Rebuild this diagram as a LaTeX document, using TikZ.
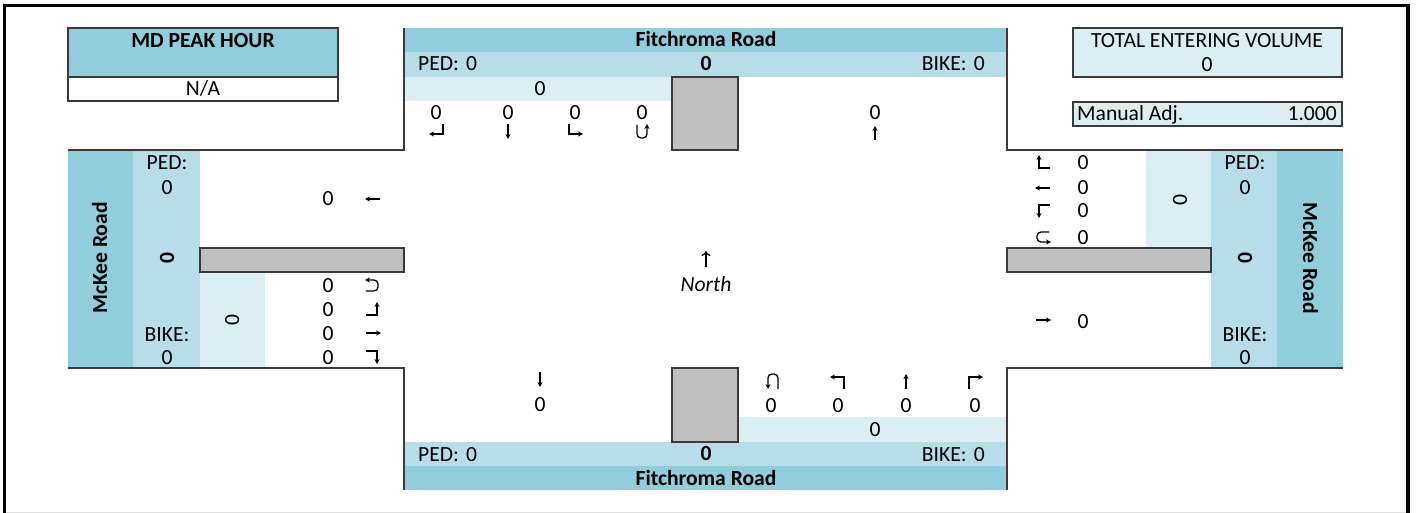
\documentclass[tikz,border=0pt]{standalone}
\usepackage{fontspec}
\setmainfont{Carlito}
\usetikzlibrary{arrows.meta}
\definecolor{bandD}{HTML}{92CDDC}
\definecolor{bandM}{HTML}{B7DEE8}
\definecolor{bandL}{HTML}{DAEEF3}
\definecolor{island}{HTML}{BFBFBF}
\definecolor{edge}{HTML}{3A3A3A}
\begin{document}
\begin{tikzpicture}[x=1pt,y=-1pt,
  t/.style={inner sep=0pt,text height=14pt,text depth=0pt,font=\fontsize{21.6}{25}\selectfont},
  tb/.style={t,font=\fontsize{21.6}{25}\selectfont\bfseries},
  ar/.style={line width=1.3pt,-{Stealth[length=5pt,width=5pt]}},
  road/.style={draw=edge,line width=1.5pt},
  box/.style={draw=edge,line width=1.3pt},
  isl/.style={draw=edge,fill=island,line width=1.3pt}]
\useasboundingbox (0,0) rectangle (1418,513);
% ---- bands ----
\fill[bandD] (404,28) rectangle (1007,52);
\fill[bandM] (404,52) rectangle (1007,77);
\fill[bandL] (404,77) rectangle (672,101);
\fill[bandL] (738,417) rectangle (1007,442);
\fill[bandM] (404,442) rectangle (1007,466);
\fill[bandD] (404,466) rectangle (1007,490);
\fill[bandD] (68,150) rectangle (133,368);
\fill[bandM] (133,150) rectangle (200,368);
\fill[bandL] (200,272) rectangle (265,368);
\fill[bandL] (1146,150) rectangle (1211,248);
\fill[bandM] (1211,150) rectangle (1277,368);
\fill[bandD] (1277,150) rectangle (1343,368);
% ---- islands ----
\draw[isl] (672,77) rectangle (738,150);
\draw[isl] (672,368) rectangle (738,442);
\draw[isl] (200,248) rectangle (404,272);
\draw[isl] (1007,248) rectangle (1211,272);
% ---- road edges ----
\draw[road] (68,150) -- (404,150) -- (404,28);
\draw[road] (68,368) -- (404,368) -- (404,490);
\draw[road] (1343,150) -- (1007,150) -- (1007,28);
\draw[road] (1343,368) -- (1007,368) -- (1007,490);
% ---- info boxes ----
\draw[box,fill=bandD] (68,28) rectangle (338,77);
\draw[box,fill=white] (68,77) rectangle (338,101);
\draw[box,fill=bandL] (1073,28) rectangle (1342,77);
\draw[box,fill=bandL] (1073,102) rectangle (1342,126);
% ---- frame ----
\draw[line width=3.5pt] (4.5,513) -- (4.5,5.5) -- (1408,5.5) -- (1408,513);
\draw[black!12,line width=1pt] (6,512) -- (1406,512);
% ---- info texts ----
\node[tb] (mdh) at (203,41) {MD PEAK HOUR};
\node[t] (na) at (203,89) {N/A};
\node[t] (tev) at (1207,41) {TOTAL ENTERING VOLUME};
\node[t] (tevv) at (1207,65) {0};
\node[t,anchor=west] (madj) at (1077,114) {Manual Adj.};
\node[t,anchor=east] (madjv) at (1337,114) {1.000};
% ---- north approach ----
\node[tb] (nroad) at (706,40) {Fitchroma Road};
\node[tb] (ntot) at (706,64) {0};
\node[t,anchor=west] (nped) at (418,64) {PED:\,\,0};
\node[t,anchor=east] (nbike) at (985,64) {BIKE:\,\,0};
\node[t] (napp) at (540,89) {0};
\node[t] (nR) at (436,113) {0};
\node[t] (nT) at (508,113) {0};
\node[t] (nL) at (575,113) {0};
\node[t] (nU) at (642,113) {0};
\node[t] (nex) at (875,113) {0};
\draw[ar] (443,124) -- (443,134) -- (429,134);
\draw[ar] (508,124) -- (508,139);
\draw[ar] (569,124) -- (569,134) -- (583,134);
\draw[ar,rounded corners=4pt] (637,125) -- (637,138) -- (647,138) -- (647,124);
\draw[ar] (875,140) -- (875,126);
% ---- south approach ----
\node[tb] (sroad) at (706,478) {Fitchroma Road};
\node[tb] (stot) at (706,453) {0};
\node[t,anchor=west] (sped) at (418,454) {PED:\,\,0};
\node[t,anchor=east] (sbike) at (985,454) {BIKE:\,\,0};
\node[t] (sapp) at (875,429) {0};
\node[t] (sex) at (540,404) {0};
\node[t] (sU) at (771,405) {0};
\node[t] (sL) at (838,405) {0};
\node[t] (sT) at (906,405) {0};
\node[t] (sR) at (975,405) {0};
\draw[ar] (540,372) -- (540,387);
\draw[ar,rounded corners=4pt] (778,389) -- (778,374) -- (768,374) -- (768,389);
\draw[ar] (844,389) -- (844,377) -- (830,377);
\draw[ar] (906,389) -- (906,374);
\draw[ar] (969,389) -- (969,377) -- (983,377);
% ---- west approach ----
\node[tb,rotate=90] (wroad) at (100,258) {McKee Road};
\node[t] (wpedl) at (167,163) {PED:};
\node[t] (wped) at (167,188) {0};
\node[tb,rotate=90] (wtot) at (167,258) {0};
\node[t] (wbikel) at (167,334) {BIKE:};
\node[t] (wbike) at (167,357) {0};
\node[t,rotate=90] (wapp) at (232,320) {0};
\node[t] (wex) at (328,199) {0};
\node[t] (wU) at (328,285) {0};
\node[t] (wL) at (328,309) {0};
\node[t] (wT) at (328,333) {0};
\node[t] (wR) at (328,357) {0};
\draw[ar] (380,199) -- (365,199);
\draw[ar,rounded corners=4pt] (366,291) -- (378,291) -- (378,280) -- (365,280);
\draw[ar] (366,315) -- (377,315) -- (377,302);
\draw[ar] (366,333) -- (381,333);
\draw[ar] (366,351) -- (377,351) -- (377,364);
% ---- east approach ----
\node[tb,rotate=-90] (eroad) at (1310,258) {McKee Road};
\node[t] (epedl) at (1245,163) {PED:};
\node[t] (eped) at (1245,188) {0};
\node[tb,rotate=-90] (etot) at (1245,258) {0};
\node[t] (ebikel) at (1245,334) {BIKE:};
\node[t] (ebike) at (1245,357) {0};
\node[t,rotate=-90] (eapp) at (1180,200) {0};
\node[t] (eR) at (1083,163) {0};
\node[t] (eT) at (1083,188) {0};
\node[t] (eL) at (1083,211) {0};
\node[t] (eU) at (1083,237) {0};
\node[t] (eex) at (1083,321) {0};
\draw[ar] (1050,168) -- (1039,168) -- (1039,155);
\draw[ar] (1050,188) -- (1035,188);
\draw[ar] (1050,205) -- (1039,205) -- (1039,218);
\draw[ar,rounded corners=4pt] (1049,232) -- (1037,232) -- (1037,242) -- (1051,242);
\draw[ar] (1036,320) -- (1051,320);
% ---- north arrow ----
\node[t,font=\fontsize{21.6}{25}\selectfont\itshape] (north) at (706,284) {North};
\draw[line width=1.2pt,-{To[length=5pt,width=9pt]}] (706,267) -- (706,251);
\end{tikzpicture}
\end{document}
